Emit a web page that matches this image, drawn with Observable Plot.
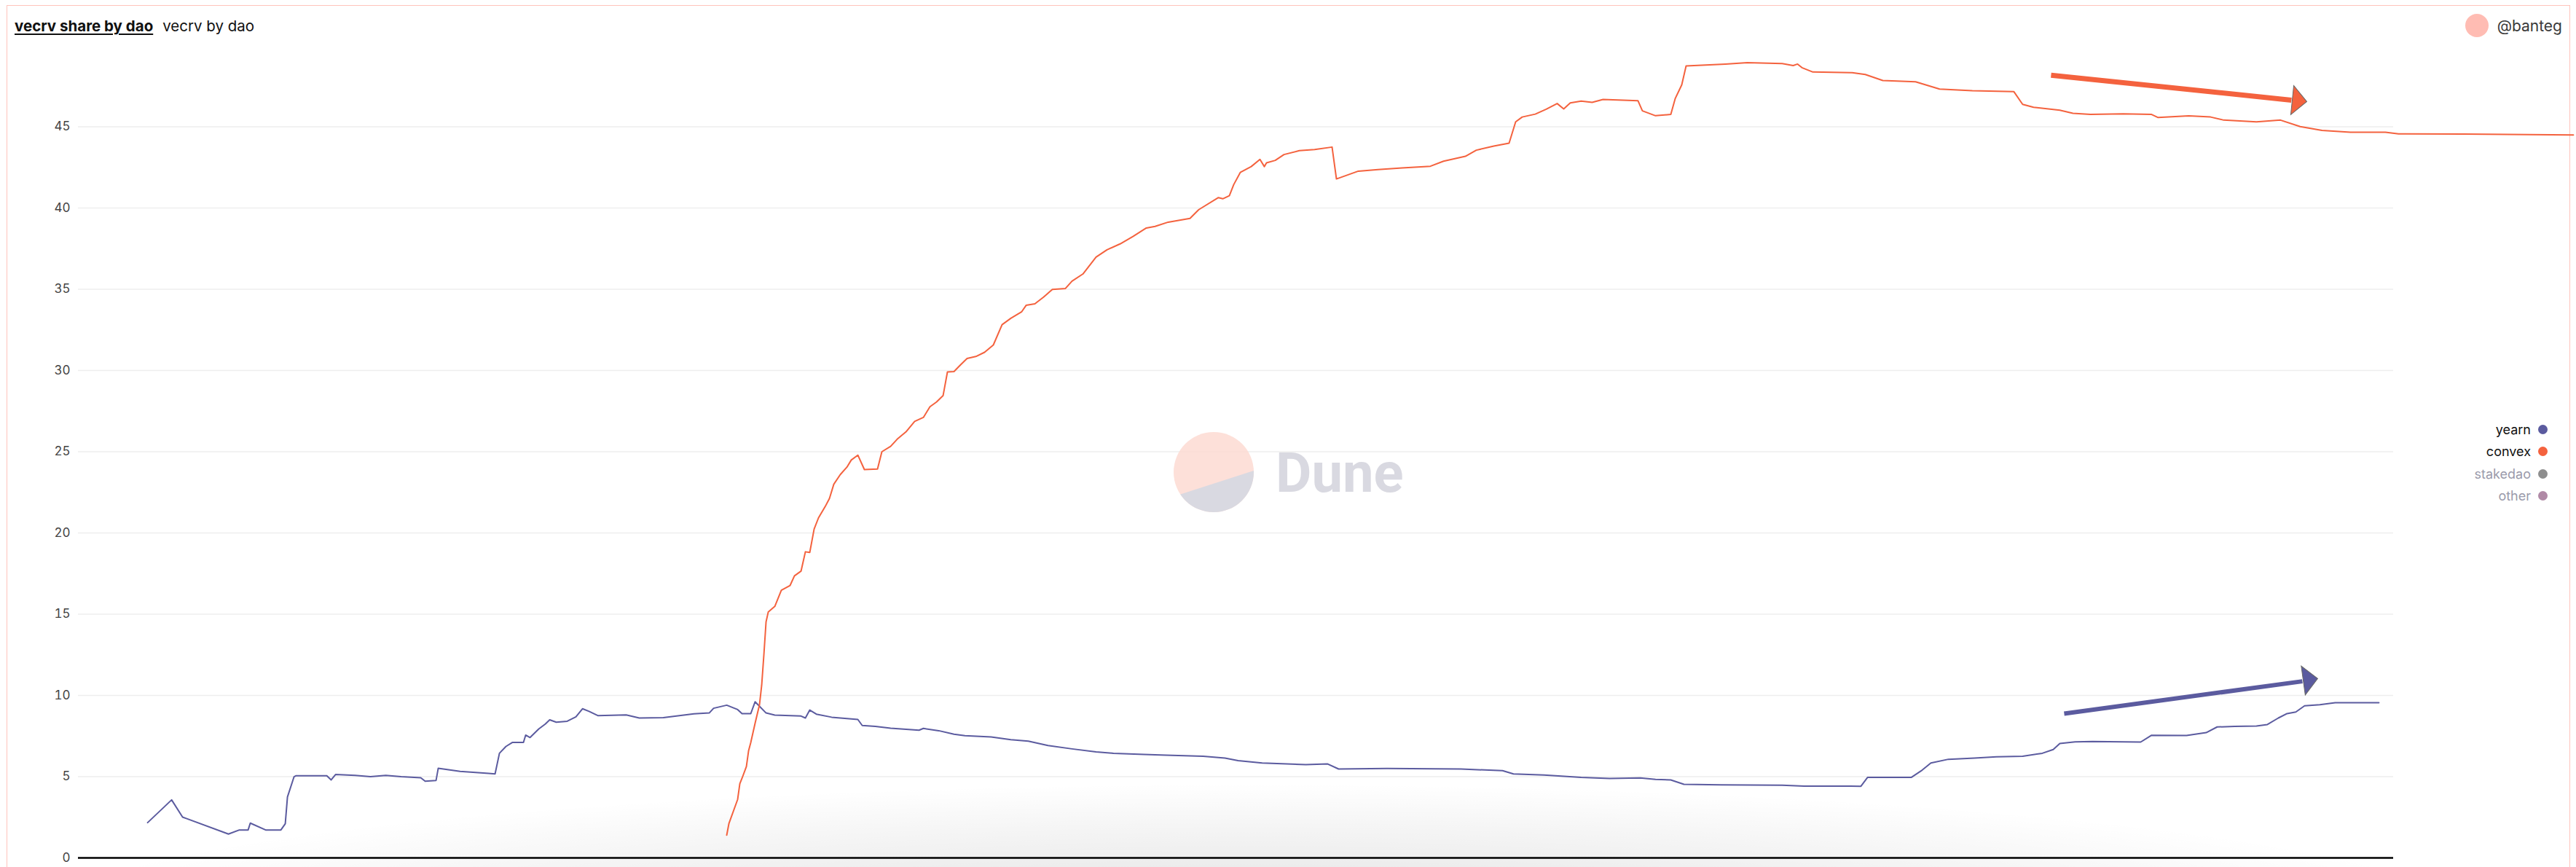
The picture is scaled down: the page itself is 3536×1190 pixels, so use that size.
<!DOCTYPE html>
<html>
<head>
<meta charset="utf-8">
<script src="https://cdn.jsdelivr.net/npm/d3@7"></script>
<script src="https://cdn.jsdelivr.net/npm/@observablehq/plot@0.6"></script>
<style>
  html, body { margin: 0; padding: 0; background: #fff; }
  body { width: 3536px; height: 1190px; overflow: hidden; position: relative; font-family: Inter, "Noto Sans", sans-serif; }
  #shade { position: absolute; left: 0; top: 0; width: 3536px; height: 1190px;
    background: radial-gradient(ellipse 1700px 190px at 1720px 1265px, rgba(0,0,0,0.12), rgba(0,0,0,0.04) 70%, rgba(0,0,0,0) 100%); }
  #frame { position: absolute; left: 9px; top: 7px; width: 3519px; height: 1250px; border: 1.5px solid #ffc4bc; box-sizing: border-box; }
  #chart { position: absolute; left: 0; top: 0; }
  #title { position: absolute; left: 20px; top: 23px; font-size: 20.5px; color: #111; white-space: nowrap; }
  #title .main { font-weight: 700; text-decoration: underline; text-underline-offset: 3px; }
  #title .sub { margin-left: 13px; }
  #author { position: absolute; right: 19px; top: 19px; height: 32px; display: flex; align-items: center; font-size: 21px; color: #3a3a3a; }
  #author .dot { width: 32px; height: 32px; border-radius: 50%; background: #ffbcb3; margin-right: 12px; }
  #legend { position: absolute; right: 39px; top: 574px; font-size: 18px; text-align: right; }
  #legend .row { height: 30.5px; display: flex; align-items: center; justify-content: flex-end; }
  #legend .sw { width: 13px; height: 13px; border-radius: 50%; margin-left: 10px; }
  #wm { position: absolute; left: 0; top: 0; pointer-events: none; }
</style>
</head>
<body>
<div id="shade"></div>
<div id="frame"></div>
<div id="chart"></div>
<div id="title"><span class="main">vecrv share by dao</span><span class="sub">vecrv by dao</span></div>
<div id="author"><div class="dot"></div><span>@banteg</span></div>
<div id="legend"></div>
<svg id="wm" width="3536" height="1190">
  <defs><clipPath id="wmc"><circle cx="1666" cy="648" r="55"/></clipPath></defs>
  <g opacity="0.85">
    <circle cx="1666" cy="648" r="55" fill="#fddbd3"/>
    <polygon clip-path="url(#wmc)" points="1600,685 1730,643 1730,720 1600,720" fill="#d3d3dc"/>
    <text x="1751" y="675" font-size="76" font-weight="700" fill="#d3d3dc" font-family="Roboto, 'Noto Sans', sans-serif">Dune</text>
  </g>
</svg>
<script>
// ---- data ----
const startDate = Date.UTC(2020, 7, 20); // day 0 of the series
const yTicks = [0, 5, 10, 15, 20, 25, 30, 35, 40, 45];

const seriesNames = ["yearn", "convex", "stakedao", "other"];
const seriesColors = ["#5b5b9f", "#f4623e", "#8e8e8e", "#b08aa6"];
const seriesActive = [true, true, false, false];

const yearnDays = [0,11,16,37,42,46,47,54,61,63,64,67,68,82,84,86,95,102,109,116,125,127,132,133,143,156,159,161,164,167,172,173,175,179,182,184,187,192,196,199,202,206,219,225,236,250,257,259,265,270,272,276,278,283,287,299,301,303,306,313,325,327,333,340,353,355,362,369,374,386,395,403,412,423,434,442,456,466,483,493,499,510,530,540,545,567,601,620,625,639,656,669,683,690,697,703,720,748,758,784,787,807,812,816,824,836,846,858,867,872,875,882,890,912,917,933,942,947,955,965,970,975,979,983,987,994,1001,1021];
const yearnValues = [2.17,3.57,2.51,1.47,1.72,1.72,2.14,1.72,1.72,2.1,3.75,4.99,5.06,5.06,4.8,5.13,5.08,5.0,5.08,5.0,4.93,4.72,4.77,5.52,5.32,5.2,5.17,6.44,6.86,7.11,7.11,7.56,7.41,7.94,8.24,8.5,8.35,8.41,8.68,9.18,9.02,8.76,8.8,8.61,8.63,8.87,8.92,9.21,9.40,9.13,8.88,8.88,9.61,8.92,8.79,8.73,8.61,9.10,8.85,8.66,8.52,8.15,8.09,7.98,7.86,7.97,7.83,7.61,7.52,7.44,7.28,7.19,6.92,6.71,6.52,6.44,6.37,6.32,6.26,6.14,5.99,5.84,5.74,5.78,5.47,5.5,5.47,5.37,5.17,5.10,4.95,4.89,4.92,4.83,4.80,4.53,4.50,4.47,4.42,4.41,4.95,4.95,5.40,5.84,6.07,6.14,6.22,6.26,6.44,6.67,7.04,7.14,7.16,7.13,7.55,7.53,7.71,8.06,8.09,8.12,8.21,8.61,8.88,8.98,9.36,9.43,9.55,9.55];

const convexDays = [265,266,270,271,272,274,275,276,278,280,281,282,283,284,287,290,294,296,299,301,303,305,307,310,312,314,317,320,322,325,328,334,336,340,343,347,351,355,358,361,364,366,369,372,375,379,383,387,391,395,400,402,406,410,414,420,423,428,434,439,445,451,457,461,467,477,481,490,492,495,497,500,505,509,511,512,516,520,527,534,542,544,554,563,574,587,593,603,608,616,623,626,629,635,640,645,648,651,656,661,666,682,684,690,697,699,702,704,722,732,748,753,755,757,762,780,786,794,809,820,835,854,858,863,875,881,889,904,917,920,934,944,950,965,976,985,995,1008,1024,1030,1060,1110];
const convexValues = [1.40,2.11,3.60,4.57,4.9,5.62,6.59,7.1,8.3,9.43,10.63,12.5,14.53,15.13,15.48,16.47,16.77,17.36,17.65,18.84,18.8,20.24,20.93,21.61,22.12,23.0,23.6,24.05,24.49,24.79,23.9,23.94,25.0,25.33,25.77,26.22,26.87,27.11,27.77,28.06,28.45,29.91,29.93,30.35,30.74,30.86,31.12,31.57,32.82,33.21,33.62,34.01,34.1,34.52,34.99,35.05,35.5,35.94,36.98,37.43,37.79,38.26,38.77,38.87,39.13,39.36,39.9,40.64,40.57,40.76,41.44,42.19,42.55,42.99,42.55,42.78,42.93,43.29,43.53,43.6,43.75,41.79,42.27,42.36,42.47,42.57,42.88,43.18,43.56,43.81,43.99,45.30,45.6,45.78,46.08,46.43,46.1,46.47,46.58,46.5,46.68,46.6,45.98,45.68,45.76,46.73,47.58,48.74,48.86,48.95,48.89,48.77,48.86,48.64,48.37,48.33,48.22,47.85,47.77,47.32,47.22,47.16,46.38,46.2,46.02,45.83,45.76,45.8,45.76,45.57,45.67,45.6,45.41,45.3,45.41,45.01,44.78,44.66,44.66,44.56,44.55,44.5];

// trend arrows drawn on the chart (start, head base, tip) in [day, value]
const arrowColors = ["#f4623e", "#5b5b9f"];
const arrowStart = [[871, 48.17], [877, 8.88]];
const arrowBase = [[981, 46.64], [986, 10.87]];
const arrowTip = [[988, 46.55], [993, 11.04]];
const arrowAngle = [5.9, -7.9];
const arrowWidth = [7, 6];

// ---- build ----
const toDate = d => new Date(startDate + d * 864e5);
const yearn = yearnDays.map((d, i) => ({date: toDate(d), v: yearnValues[i]}));
const convex = convexDays.map((d, i) => ({date: toDate(d), v: convexValues[i]}));
const arrows = arrowColors.map((c, i) => ({
  c, x1: toDate(arrowStart[i][0]), y1: arrowStart[i][1],
  x2: toDate(arrowBase[i][0]), y2: arrowBase[i][1],
  tx: toDate(arrowTip[i][0]), ty: arrowTip[i][1], a: arrowAngle[i], w: arrowWidth[i]
}));

const arrowHead = {
  draw(context, size) {
    const r = Math.sqrt(size / Math.PI);
    context.moveTo(0, 0);
    context.lineTo(-r, -r);
    context.lineTo(-r, r);
    context.closePath();
  }
};

const chart = Plot.plot({
  width: 3536,
  height: 1190,
  marginLeft: 107,
  marginRight: 251,
  marginTop: 62,
  marginBottom: 13,
  style: {background: "transparent", fontFamily: "Inter, 'Noto Sans', sans-serif", fontSize: "17px", color: "#444", overflow: "visible"},
  x: {type: "utc", domain: [toDate(-31.7), toDate(1027.7)], axis: null},
  y: {domain: [0, 50], axis: null},
  marks: [
    Plot.gridY(yTicks.filter(t => t > 0), {stroke: "#eeeeee", strokeOpacity: 1, strokeWidth: 1.5}),
    Plot.axisY(yTicks, {tickSize: 0, tickPadding: 11, fontSize: 17, label: null}),
    Plot.ruleY([0], {stroke: "#000", strokeWidth: 2.5}),
    Plot.line(yearn, {x: "date", y: "v", stroke: seriesColors[0], strokeWidth: 2}),
    Plot.line(convex, {x: "date", y: "v", stroke: seriesColors[1], strokeWidth: 2, clip: false}),
    Plot.link(arrows, {x1: "x1", y1: "y1", x2: "x2", y2: "y2", stroke: "c", strokeWidth: "w", strokeLinecap: "butt"}),
    Plot.dot(arrows, {x: "tx", y: "ty", symbol: arrowHead, r: 20, rotate: "a", fill: "c", stroke: "#666", strokeWidth: 1})
  ]
});
document.getElementById("chart").appendChild(chart);

// legend
const legend = document.getElementById("legend");
seriesNames.forEach((n, i) => {
  const row = document.createElement("div");
  row.className = "row";
  const t = document.createElement("span");
  t.textContent = n;
  t.style.color = seriesActive[i] ? "#111" : "#9a9aaa";
  const sw = document.createElement("span");
  sw.className = "sw";
  sw.style.background = seriesColors[i];
  row.appendChild(t);
  row.appendChild(sw);
  legend.appendChild(row);
});
</script>
</body>
</html>
